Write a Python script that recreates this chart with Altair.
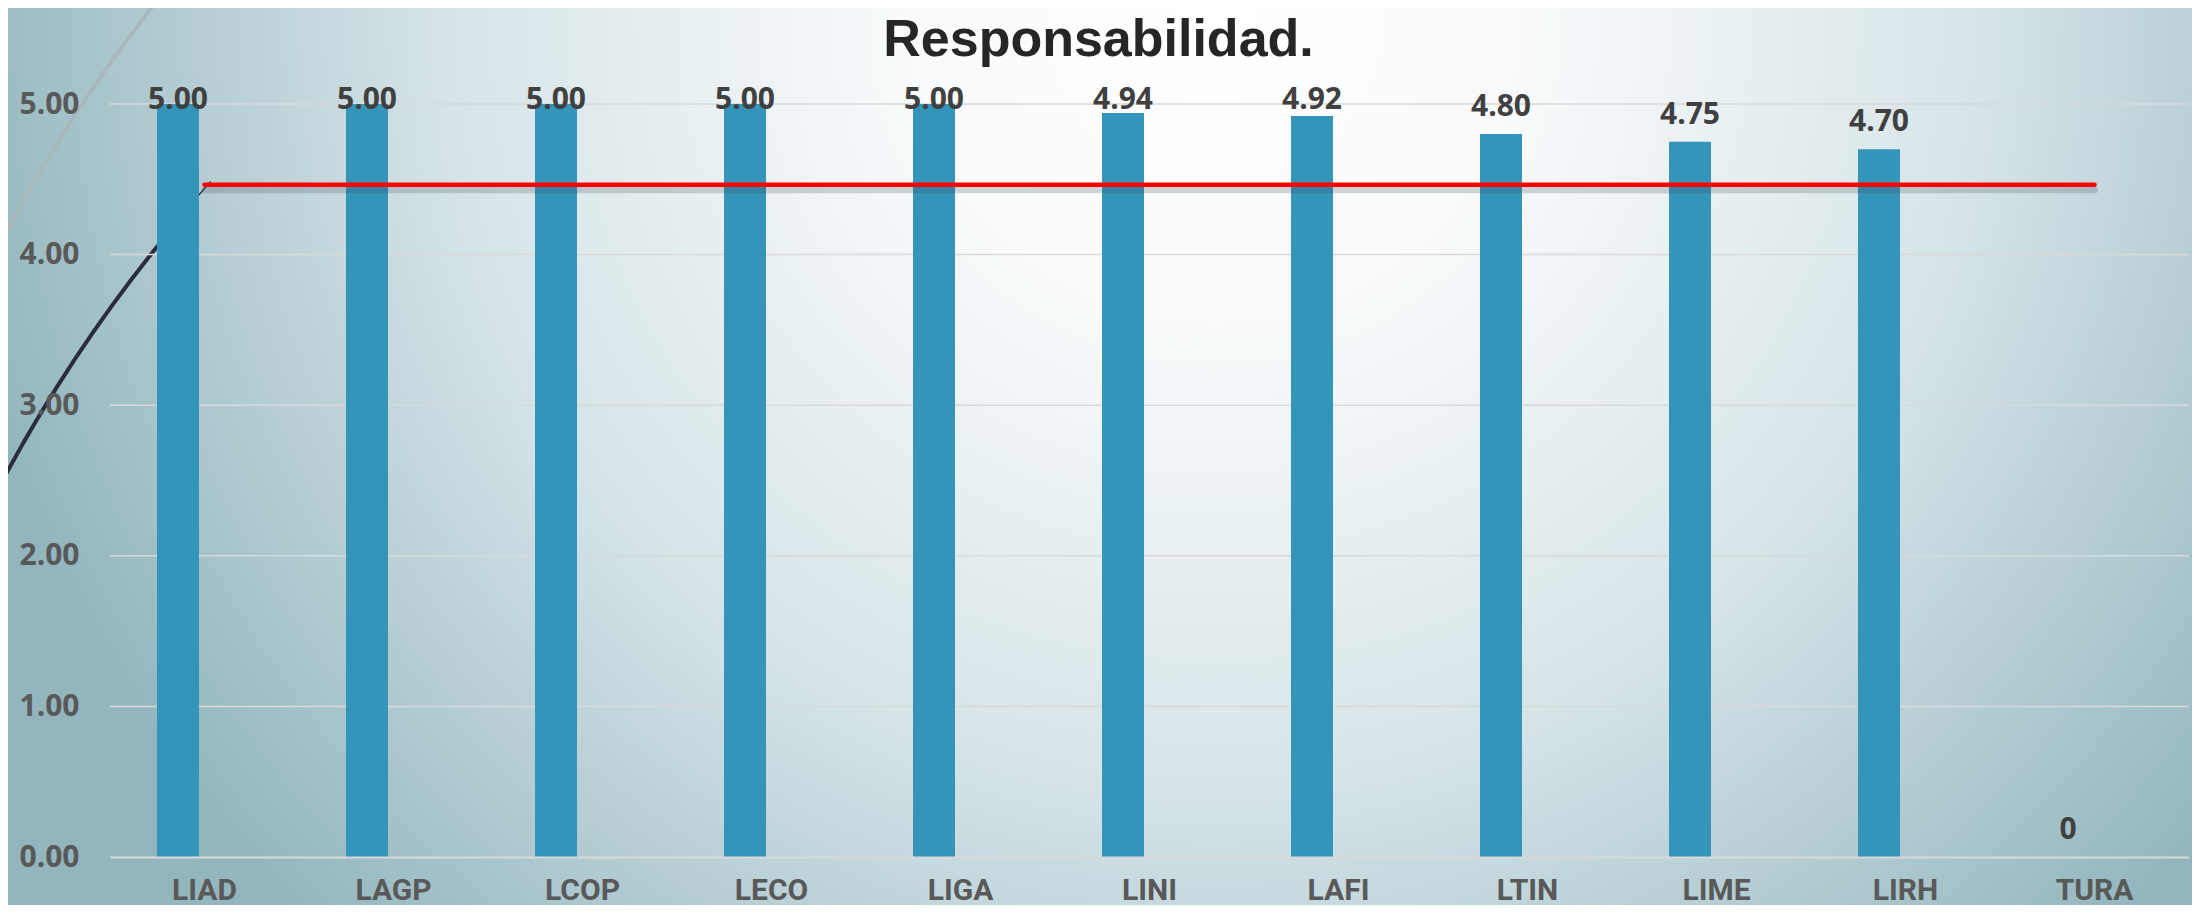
import altair as alt
import pandas as pd

# ---- data ----
categories = ["LIAD", "LAGP", "LCOP", "LECO", "LIGA", "LINI", "LAFI", "LTIN", "LIME", "LIRH", "TURA"]
values = [5.00, 5.00, 5.00, 5.00, 5.00, 4.94, 4.92, 4.80, 4.75, 4.70, 0]
value_labels = ["5.00", "5.00", "5.00", "5.00", "5.00", "4.94", "4.92", "4.80", "4.75", "4.70", "0"]
y_ticks = [0, 1, 2, 3, 4, 5]
title_text = "Responsabilidad."

df = pd.DataFrame({"cat": categories, "v": values, "lbl": value_labels})
grid_df = pd.DataFrame({"t": y_ticks[1:]})

W, H = 2079, 753
FONT = "Roboto"
NUM_FONT = "Open Sans"
BAR_SHIFT = -26.5

x_enc = alt.X(
    "cat:N",
    sort=categories,
    title=None,
    scale=alt.Scale(paddingInner=0, paddingOuter=0),
    axis=alt.Axis(
        labelAngle=0, ticks=False, domain=True, domainColor="#d9d9d9", domainWidth=2,
        labelFont=FONT, labelFontSize=30, labelFontWeight="bold", labelColor="#595959",
        labelPadding=18, grid=False, zindex=1,
    ),
)
y_scale = alt.Scale(domain=[0, 5], nice=False)

base = alt.Chart(df)

gradient = alt.RadialGradient(
    gradient="radial",
    x1=0.55, y1=0.3, r1=0, x2=0.55, y2=0.3, r2=0.58,
    stops=[
        alt.GradientStop(offset=0, color="#ffffff"),
        alt.GradientStop(offset=0.25, color="#f8fafb"),
        alt.GradientStop(offset=0.6, color="#d6e4e8"),
        alt.GradientStop(offset=1, color="#93b6be"),
    ],
)
one = alt.Data(values=[{"k": 1}])
bg = alt.Chart(one).mark_rect(fill=gradient).encode(
    x=alt.value(-110), x2=alt.value(W + 20), y=alt.value(-104), y2=alt.value(H + 60)
)

arc_gray = alt.Chart(one).mark_arc(
    radius=1492, radius2=1488, theta=5.15, theta2=5.40, color="#a9b8bd"
).encode(x=alt.value(1215), y=alt.value(822))
arc_dark = alt.Chart(one).mark_arc(
    radius=1513, radius2=1509, theta=5.15, theta2=5.39, color="#2b2b40"
).encode(x=alt.value(1225), y=alt.value(1089))
arc_tail = alt.Chart(one).mark_arc(
    radius=1513, radius2=1511.8, theta=5.39, theta2=5.445, color="#2b2b40"
).encode(x=alt.value(1225), y=alt.value(1089))

title = alt.Chart(one).mark_text(
    text=title_text, font="Liberation Sans", fontSize=52, fontWeight="bold", color="#262626",
    align="center", baseline="alphabetic",
).encode(x=alt.value(W / 2 - 51), y=alt.value(-48))

grid = alt.Chart(grid_df).mark_rule(color="#d9d9d9", strokeWidth=1.5).encode(
    y=alt.Y("t:Q", scale=y_scale), x=alt.value(0), x2=alt.value(W)
)

bars = base.mark_bar(width=42, xOffset=BAR_SHIFT, color="#3494ba").encode(
    x=x_enc,
    y=alt.Y(
        "v:Q", scale=y_scale, title=None,
        axis=alt.Axis(
            values=y_ticks, format=".2f", ticks=False, domain=False, grid=False,
            labelFont=NUM_FONT, labelFontSize=30, labelFontWeight="bold",
            labelColor="#595959", labelPadding=31, zindex=1,
        ),
    ),
)

avg = base.transform_joinaggregate(m="mean(v)")
shadow = avg.mark_line(yOffset=5, strokeWidth=7, color="#3a4a50", opacity=0.22, strokeCap="round").encode(
    x=x_enc, y=alt.Y("m:Q", scale=y_scale)
)
red = avg.mark_line(strokeWidth=4.5, color="#ff0000", strokeCap="round").encode(
    x=x_enc, y=alt.Y("m:Q", scale=y_scale)
)

labels = base.transform_calculate(ly="min(datum.v + 0.12, 4.97)").mark_text(
    xOffset=BAR_SHIFT, baseline="alphabetic", align="center",
    font=NUM_FONT, fontSize=30, fontWeight="bold", color="#404040",
).encode(x=x_enc, y=alt.Y("ly:Q", scale=y_scale), text="lbl:N")

chart = alt.layer(bg, arc_gray, arc_dark, arc_tail, title, grid, bars, shadow, red, labels).properties(
    width=W, height=H,
    autosize=alt.AutoSizeParams(type="none"),
    padding={"left": 102, "top": 96, "right": 3, "bottom": 48},
).configure_view(stroke=None).configure(background="#ffffff")

chart.save("out.html", embed_options={"renderer": "svg", "actions": False})
